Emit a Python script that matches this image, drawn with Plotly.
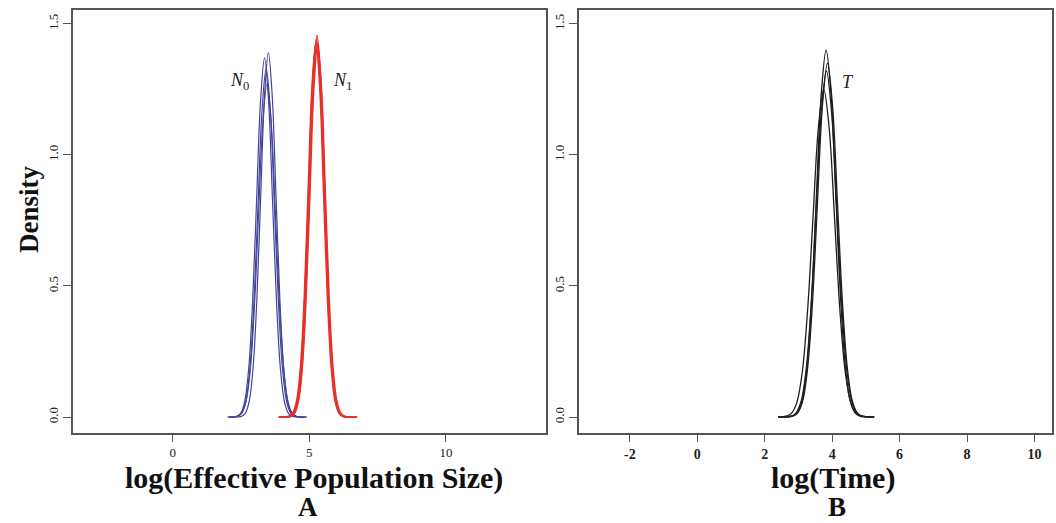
import plotly.graph_objects as go

n0_x = [
    [2.10, 2.52, 2.66, 2.80, 2.94, 3.08, 3.22, 3.36, 3.50, 3.64, 3.78, 3.92, 4.06, 4.20, 4.34, 4.48, 4.90],
    [2.00, 2.345, 2.49, 2.635, 2.78, 2.925, 3.07, 3.215, 3.36, 3.505, 3.65, 3.795, 3.94, 4.085, 4.23, 4.375, 4.80],
    [2.05, 2.37, 2.52, 2.67, 2.82, 2.97, 3.12, 3.27, 3.42, 3.57, 3.72, 3.87, 4.02, 4.17, 4.32, 4.47, 4.85],
    [2.05, 2.365, 2.52, 2.675, 2.83, 2.985, 3.14, 3.295, 3.45, 3.605, 3.76, 3.915, 4.07, 4.225, 4.38, 4.535, 4.90],
]
n0_y = [
    [0, 0.003, 0.015, 0.061, 0.188, 0.451, 0.843, 1.227, 1.390, 1.227, 0.843, 0.451, 0.188, 0.061, 0.015, 0.003, 0],
    [0, 0.003, 0.015, 0.060, 0.185, 0.445, 0.831, 1.209, 1.370, 1.209, 0.831, 0.445, 0.185, 0.060, 0.015, 0.003, 0],
    [0, 0.003, 0.015, 0.058, 0.180, 0.432, 0.807, 1.174, 1.330, 1.174, 0.807, 0.432, 0.180, 0.058, 0.015, 0.003, 0],
    [0, 0.003, 0.014, 0.056, 0.172, 0.412, 0.770, 1.121, 1.270, 1.121, 0.770, 0.412, 0.172, 0.056, 0.014, 0.003, 0],
]
n1_x = [
    [3.90, 4.321, 4.458, 4.595, 4.732, 4.869, 5.006, 5.143, 5.28, 5.417, 5.554, 5.691, 5.828, 5.965, 6.102, 6.239, 6.75],
    [3.86, 4.26, 4.40, 4.54, 4.68, 4.82, 4.96, 5.10, 5.24, 5.38, 5.52, 5.66, 5.80, 5.94, 6.08, 6.22, 6.70],
    [3.95, 4.32, 4.46, 4.60, 4.74, 4.88, 5.02, 5.16, 5.30, 5.44, 5.58, 5.72, 5.86, 6.00, 6.14, 6.28, 6.75],
    [3.90, 4.28, 4.42, 4.56, 4.70, 4.84, 4.98, 5.12, 5.26, 5.40, 5.54, 5.68, 5.82, 5.96, 6.10, 6.24, 6.70],
]
n1_y = [
    [0, 0.003, 0.016, 0.064, 0.197, 0.472, 0.882, 1.284, 1.455, 1.284, 0.882, 0.472, 0.197, 0.064, 0.016, 0.003, 0],
    [0, 0.003, 0.016, 0.063, 0.193, 0.464, 0.867, 1.262, 1.430, 1.262, 0.867, 0.464, 0.193, 0.063, 0.016, 0.003, 0],
    [0, 0.003, 0.016, 0.062, 0.192, 0.461, 0.861, 1.253, 1.420, 1.253, 0.861, 0.461, 0.192, 0.062, 0.016, 0.003, 0],
    [0, 0.003, 0.016, 0.063, 0.195, 0.468, 0.873, 1.271, 1.440, 1.271, 0.873, 0.468, 0.195, 0.063, 0.016, 0.003, 0],
]
t_x = [
    [2.40, 2.819, 2.962, 3.105, 3.248, 3.391, 3.534, 3.677, 3.82, 3.963, 4.106, 4.249, 4.392, 4.535, 4.678, 4.821, 5.22],
    [2.45, 2.824, 2.972, 3.12, 3.268, 3.416, 3.564, 3.712, 3.86, 4.008, 4.156, 4.304, 4.452, 4.60, 4.748, 4.896, 5.25],
    [2.40, 2.773, 2.924, 3.075, 3.226, 3.377, 3.528, 3.679, 3.83, 3.981, 4.132, 4.283, 4.434, 4.585, 4.736, 4.887, 5.25],
    [2.40, 2.63, 2.79, 2.95, 3.11, 3.27, 3.43, 3.59, 3.75, 3.91, 4.07, 4.23, 4.39, 4.55, 4.71, 4.87, 5.20],
]
t_y = [
    [0, 0.003, 0.016, 0.061, 0.189, 0.455, 0.849, 1.236, 1.400, 1.236, 0.849, 0.455, 0.189, 0.061, 0.016, 0.003, 0],
    [0, 0.003, 0.015, 0.059, 0.183, 0.438, 0.819, 1.191, 1.350, 1.191, 0.819, 0.438, 0.183, 0.059, 0.015, 0.003, 0],
    [0, 0.003, 0.015, 0.058, 0.179, 0.429, 0.801, 1.165, 1.320, 1.165, 0.801, 0.429, 0.179, 0.058, 0.015, 0.003, 0],
    [0, 0.003, 0.014, 0.055, 0.169, 0.406, 0.758, 1.103, 1.250, 1.103, 0.758, 0.406, 0.169, 0.055, 0.014, 0.003, 0],
]
y_ticks = [0.0, 0.5, 1.0, 1.5]
xa_ticks = [0, 5, 10]
xb_ticks = [-2, 0, 2, 4, 6, 8, 10]
xb_labels = ["-2", "0", "2", "4", "6", "8", "10"]

FONT = "Liberation Serif"
BLUE = "#45439a"
RED = "#e8302b"
BLACK = "#1e1e1e"

fig = go.Figure()

def add_group(xs, ys, color, width, xa, ya):
    for x, y in zip(xs, ys):
        fig.add_trace(go.Scatter(x=x, y=y, mode="lines", xaxis=xa, yaxis=ya,
                                 line=dict(color=color, width=width, shape="spline", smoothing=1.0),
                                 showlegend=False, hoverinfo="skip"))

add_group(n0_x, n0_y, BLUE, 1.2, "x", "y")
add_group(n1_x, n1_y, RED, 1.7, "x", "y")
add_group(t_x, t_y, BLACK, 1.3, "x2", "y2")

W, H = 1056, 523
dom_y = [1 - 433 / H, 1 - 10 / H]

axis_common = dict(showline=True, mirror=True, linecolor="#555", linewidth=1.5,
                   ticks="outside", tickcolor="#555", tickwidth=1,
                   showgrid=False, zeroline=False)
tf = dict(family=FONT, size=13, color="#222")

fig.update_layout(
    width=W, height=H,
    margin=dict(l=0, r=0, t=0, b=0),
    paper_bgcolor="white", plot_bgcolor="white",
    xaxis=dict(domain=[73 / W, 546 / W], range=[-3.65, 13.66], tickvals=xa_ticks,
               anchor="y", tickfont=tf, ticklen=7, **axis_common),
    yaxis=dict(domain=dom_y, range=[-0.061, 1.553], tickvals=y_ticks, tickformat=".1f",
               tickangle=-90, anchor="x", tickfont=tf, ticklen=8, **axis_common),
    xaxis2=dict(domain=[579 / W, 1052 / W], range=[-3.51, 10.52], tickvals=xb_ticks,
                ticktext=xb_labels, anchor="y2", ticklen=7,
                tickfont=dict(family=FONT, size=14, color="#222", weight="bold"), **axis_common),
    yaxis2=dict(domain=dom_y, range=[-0.061, 1.553], tickvals=y_ticks, tickformat=".1f",
                tickangle=-90, anchor="x2", tickfont=tf, ticklen=8, **axis_common),
)

lab_font = dict(family=FONT, size=18, color="#222")
for x, y, xr, yr, txt in [(2.43, 1.28, "x", "y", "<i>N</i><sub>0</sub>"),
                          (6.2, 1.28, "x", "y", "<i>N</i><sub>1</sub>"),
                          (4.47, 1.28, "x2", "y2", "<i>T</i>")]:
    fig.add_annotation(x=x, y=y, xref=xr, yref=yr, text=txt, showarrow=False,
                       font=lab_font, xanchor="center", yanchor="middle")

title_font = dict(family=FONT, size=30, color="#111")
for x, y, txt in [(313.5, 478, "<b>log(Effective Population Size)</b>"),
                  (833, 478, "<b>log(Time)</b>")]:
    fig.add_annotation(x=x / W, y=1 - y / H, xref="paper", yref="paper", text=txt,
                       showarrow=False, font=title_font, xanchor="center", yanchor="middle",
                       borderpad=0)
for x, txt in [(308, "<b>A</b>"), (836.7, "<b>B</b>")]:
    fig.add_annotation(x=x / W, y=0, xref="paper", yref="paper", text=txt,
                       showarrow=False, font=dict(family=FONT, size=27, color="#111"),
                       xanchor="center", yanchor="bottom", borderpad=0)
fig.add_annotation(x=29 / W, y=1 - 210 / H, xref="paper", yref="paper",
                   text="<b>Density</b>", textangle=-90, showarrow=False,
                   xanchor="center", yanchor="middle",
                   font=dict(family=FONT, size=27, color="#111"))

fig.write_html("out.html")
